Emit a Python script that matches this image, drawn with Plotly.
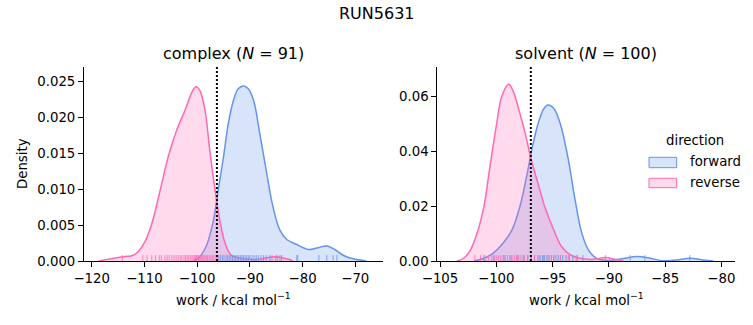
import plotly.graph_objects as go

# ---------------- data ----------------
# complex leg: KDE curves (work in kcal/mol, density)
cx_fwd_x = [-100.7, -99.5, -98.2, -96.9, -96.0, -95.0, -94.1, -93.1, -92.2, -91.2, -90.3, -89.3,
            -88.1, -86.8, -85.6, -84.3, -83.0, -81.1, -78.9, -77.3, -75.4, -73.9, -72.3, -70.4, -67.9]
cx_fwd_y = [0.0, 0.0006, 0.0022, 0.0057, 0.0099, 0.0145, 0.0191, 0.0224, 0.0240, 0.0244, 0.0240, 0.0224,
            0.0177, 0.0122, 0.0075, 0.0043, 0.0030, 0.0023, 0.0016, 0.0018, 0.0021, 0.0016, 0.0008, 0.0003, 0.0]
cx_rev_x = [-118.7, -114.0, -112.4, -111.2, -109.9, -108.6, -107.0, -105.5, -103.9, -102.3, -101.0, -100.2,
            -99.5, -98.5, -97.6, -96.6, -95.7, -94.7, -93.5, -91.9, -88.7, -85.2, -83.0, -81.8]
cx_rev_y = [0.0, 0.0006, 0.00074, 0.0013, 0.0027, 0.0052, 0.0099, 0.0145, 0.0182, 0.0210, 0.0235, 0.0243,
            0.0238, 0.0210, 0.0154, 0.0099, 0.0057, 0.0025, 0.0008, 0.0004, 0.0002, 0.0006, 0.0003, 0.0]

# solvent leg
sv_fwd_x = [-102.0, -101.1, -100.3, -99.4, -98.6, -97.9, -97.3, -96.8, -96.3, -95.8, -95.4, -94.9, -94.3,
            -93.6, -93.0, -92.4, -91.8, -91.1, -89.9, -88.7, -87.5, -86.3, -85.2, -84.0, -82.8, -81.6, -80.7]
sv_fwd_y = [0.0, 0.001, 0.0028, 0.0065, 0.0114, 0.0199, 0.0310, 0.0415, 0.0500, 0.0555, 0.0570, 0.0558, 0.0500,
            0.0371, 0.0224, 0.0102, 0.0040, 0.0010, 0.0002, 0.0009, 0.0016, 0.0010, 0.0001, 0.0004, 0.0010, 0.0004, 0.0]
sv_rev_x = [-103.5, -102.9, -102.3, -101.7, -101.1, -100.6, -100.0, -99.5, -98.9, -98.5, -98.0, -97.4, -96.9,
            -96.3, -95.7, -94.9, -94.2, -93.4, -92.6, -91.4, -90.3, -89.4, -88.7]
sv_rev_y = [0.0, 0.001, 0.004, 0.0102, 0.0199, 0.0334, 0.0493, 0.0603, 0.0646, 0.0621, 0.0554, 0.0462, 0.0371,
            0.0285, 0.0199, 0.0114, 0.0053, 0.0022, 0.0010, 0.0006, 0.0013, 0.0006, 0.0]

# rug samples
cx_fwd_rug = [-96.0, -95.6, -95.2, -94.9, -94.5, -94.2, -93.9, -93.6, -93.3, -93.0, -92.7, -92.4, -92.1, -91.8,
              -91.5, -91.2, -90.9, -90.6, -90.3, -90.0, -89.6, -89.2, -88.8, -88.4, -87.9, -87.4, -86.9, -86.2,
              -84.8, -84.0, -81.1, -80.9, -76.9, -75.4, -74.2, -73.5]
cx_rev_rug = [-114.2, -110.3, -109.5, -108.6, -107.9, -107.2, -106.8, -106.1, -105.7, -105.3, -104.8, -104.4,
              -104.0, -103.6, -103.2, -102.9, -102.5, -102.2, -101.9, -101.6, -101.3, -101.0, -100.8, -100.5,
              -100.3, -100.1, -99.9, -99.7, -99.5, -99.3, -99.1, -98.9, -98.7, -98.5, -98.2, -98.0, -97.7,
              -97.4, -97.1, -96.8, -96.4, -95.9, -85.8, -85.1, -84.3]
sv_fwd_rug = [-101.1, -100.2, -99.3, -98.7, -98.1, -97.6, -97.2, -96.9, -96.6, -96.3, -96.1, -95.9, -95.7, -95.5,
              -95.3, -95.1, -94.9, -94.7, -94.5, -94.3, -94.1, -93.8, -93.5, -93.2, -92.8, -92.3, -88.1, -86.8, -82.8]
sv_rev_rug = [-101.9, -101.4, -101.0, -100.7, -100.4, -100.2, -100.0, -99.8, -99.6, -99.4, -99.2, -99.0, -98.8,
              -98.6, -98.4, -98.2, -98.0, -97.8, -97.5, -97.2, -96.9, -96.6, -96.2, -95.8, -95.4, -94.9, -94.3,
              -93.6, -92.9, -90.3]

# free energy estimates (dotted lines)
phase_names = ["complex", "solvent"]
phase_n = [91, 100]
phase_dg = [-96.25, -96.93]

# ---------------- styling ----------------
FONT = "DejaVu Sans"
BLUE = "#6495ED"
PINK = "#FF69B4"
BLUE_FILL = "rgba(100,149,237,0.25)"
PINK_FILL = "rgba(255,105,180,0.25)"

W, H = 753, 325
xdom1 = [84 / W, 382.7 / W]
xdom2 = [437.3 / W, 735.3 / W]
ydom = [1 - 261 / H, 1 - 66.7 / H]
yrange1 = [0, 0.02708]
yrange2 = [0, 0.071]

fig = go.Figure()


def add_kde(x, y, xa, ya, color, fill):
    fig.add_trace(go.Scatter(x=x, y=y, xaxis=xa, yaxis=ya, mode="lines",
                             line=dict(color=color, width=1.5, shape="spline", smoothing=1.0),
                             fill="tozeroy", fillcolor=fill, showlegend=False, hoverinfo="skip"))


def add_rug(vals, xa, ya, ytop, color):
    # rug ticks span the bottom 2.5 % of the axes height
    fig.add_trace(go.Scatter(x=vals, y=[0.0125 * ytop] * len(vals), xaxis=xa, yaxis=ya, mode="markers",
                             marker=dict(symbol="line-ns", size=5, line=dict(color=color, width=1)),
                             opacity=0.8, showlegend=False, hoverinfo="skip", cliponaxis=False))


add_kde(cx_fwd_x, cx_fwd_y, "x", "y", BLUE, BLUE_FILL)
add_kde(cx_rev_x, cx_rev_y, "x", "y", PINK, PINK_FILL)
add_kde(sv_fwd_x, sv_fwd_y, "x2", "y2", BLUE, BLUE_FILL)
add_kde(sv_rev_x, sv_rev_y, "x2", "y2", PINK, PINK_FILL)
add_rug(cx_fwd_rug, "x", "y", yrange1[1], BLUE)
add_rug(cx_rev_rug, "x", "y", yrange1[1], PINK)
add_rug(sv_fwd_rug, "x2", "y2", yrange2[1], BLUE)
add_rug(sv_rev_rug, "x2", "y2", yrange2[1], PINK)

for xr, yr, dg in [("x", "y domain", phase_dg[0]), ("x2", "y2 domain", phase_dg[1])]:
    fig.add_shape(type="line", xref=xr, yref=yr, x0=dg, x1=dg, y0=0, y1=1,
                  line=dict(color="black", width=2, dash="2px,2px"))

axis_common = dict(showline=True, linecolor="black", linewidth=1, ticks="outside", ticklen=5, tickwidth=1,
                   tickcolor="black", showgrid=False, zeroline=False, automargin=False,
                   tickfont=dict(family=FONT, size=13.3, color="black"))

fig.update_layout(
    width=W, height=H, margin=dict(l=0, r=0, t=0, b=0),
    paper_bgcolor="white", plot_bgcolor="white",
    font=dict(family=FONT, color="black"),
    xaxis=dict(domain=xdom1, range=[-121.46, -64.8], tick0=-120, dtick=10, anchor="y", **axis_common),
    yaxis=dict(domain=ydom, range=yrange1, tick0=0, dtick=0.005, tickformat=".3f", anchor="x", **axis_common),
    xaxis2=dict(domain=xdom2, range=[-105.24, -78.76], tick0=-105, dtick=5, anchor="y2", **axis_common),
    yaxis2=dict(domain=ydom, range=yrange2, tick0=0, dtick=0.02, tickformat=".2f", anchor="x2", **axis_common),
)

ann = []
ann.append(dict(text="RUN5631", x=0.5, y=1 - 13 / H, xref="paper", yref="paper", showarrow=False,
                font=dict(family=FONT, size=16), xanchor="center", yanchor="middle"))
for i, xd in enumerate([xdom1, xdom2]):
    cx = (xd[0] + xd[1]) / 2
    ann.append(dict(text=f"{phase_names[i]} (<i>N</i> = {phase_n[i]})", x=cx, y=1 - 54 / H,
                    xref="paper", yref="paper", showarrow=False, font=dict(family=FONT, size=16),
                    xanchor="center", yanchor="middle"))
    ann.append(dict(text="work / kcal mol<sup>−1</sup>", x=cx, y=1 - 288 / H, xref="paper", yref="paper",
                    showarrow=False, font=dict(family=FONT, size=13.3), xanchor="center", yanchor="top"))
ann.append(dict(text="Density", x=22 / W, y=1 - 164 / H, xref="paper", yref="paper", showarrow=False,
                textangle=-90, font=dict(family=FONT, size=13.3), xanchor="center", yanchor="middle"))
# legend
ann.append(dict(text="direction", x=695 / W, y=1 - 140.7 / H, xref="paper", yref="paper", showarrow=False,
                font=dict(family=FONT, size=13.3), xanchor="center", yanchor="middle"))
leg_items = [("forward", BLUE, BLUE_FILL, 157.3, 167.7, 161.7), ("reverse", PINK, PINK_FILL, 178.3, 187.7, 182.7)]
for name, col, fcol, t, b, ty in leg_items:
    fig.add_shape(type="rect", xref="paper", yref="paper", x0=649 / W, x1=676.7 / W, y0=1 - b / H, y1=1 - t / H,
                  line=dict(color=col, width=1), fillcolor=fcol)
    ann.append(dict(text=name, x=688.3 / W, y=1 - ty / H, xref="paper", yref="paper", showarrow=False,
                    font=dict(family=FONT, size=13.3), xanchor="left", yanchor="middle"))
fig.update_layout(annotations=ann)

fig.write_html("out.html")
